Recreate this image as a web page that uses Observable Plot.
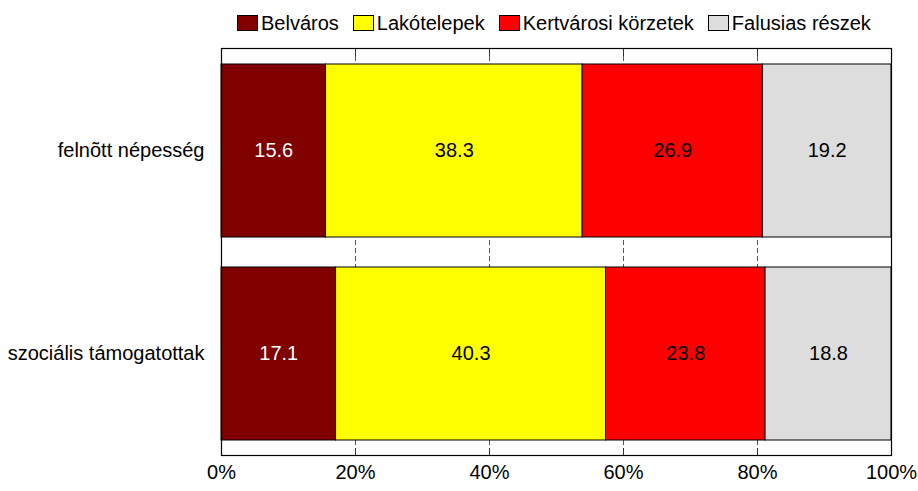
<!DOCTYPE html>
<html>
<head>
<meta charset="utf-8">
<script src="https://cdn.jsdelivr.net/npm/d3@7"></script>
<script src="https://cdn.jsdelivr.net/npm/@observablehq/plot@0.6"></script>
<style>
  body { margin: 0; background: #fff; font-family: "Liberation Sans", Arial, sans-serif; }
  #legend { height: 40px; display: flex; align-items: center; padding-left: 237px; font-size: 20px; color: #000; box-sizing: border-box; padding-top: 6px; }
  .item { display: flex; align-items: center; margin-right: 14px; }
  .sw { width: 19px; height: 14px; border: 1px solid #000; margin-right: 3px; }
</style>
</head>
<body>
<div id="legend"></div>
<div id="chart"></div>
<script>
const categories = ["felnõtt népesség", "szociális támogatottak"];
const series = ["Belváros", "Lakótelepek", "Kertvárosi körzetek", "Falusias részek"];
const colors = ["#800000", "#ffff00", "#ff0000", "#dddddd"];
const adultValues = [15.6, 38.3, 26.9, 19.2];
const socialValues = [17.1, 40.3, 23.8, 18.8];
const xTicks = [0, 20, 40, 60, 80, 100];

const data = [];
series.forEach((s, i) => data.push({cat: categories[0], series: s, value: adultValues[i]}));
series.forEach((s, i) => data.push({cat: categories[1], series: s, value: socialValues[i]}));

const legend = d3.select("#legend");
series.forEach((s, i) => {
  const it = legend.append("div").attr("class", "item");
  it.append("div").attr("class", "sw").style("background", colors[i]);
  it.append("span").text(s);
});

const font = "'Liberation Sans', Arial, sans-serif";
const chart = Plot.plot({
  width: 918,
  height: 451,
  marginTop: 8,
  marginBottom: 36,
  marginLeft: 221,
  marginRight: 27,
  style: {fontSize: "20px", fontFamily: font, color: "#000", background: "#fff"},
  x: {domain: [0, 100], axis: null},
  y: {domain: categories, paddingInner: 0.15, paddingOuter: 0.075, axis: null},
  color: {domain: series, range: colors},
  marks: [
    Plot.gridX(xTicks, {stroke: "#555", strokeOpacity: 1, strokeDasharray: "5,3"}),
    Plot.barX(data, Plot.stackX({x: "value", y: "cat", fill: "series", stroke: "#000", strokeWidth: 1})),
    Plot.text(data, Plot.stackX({
      x: "value", y: "cat", z: "series",
      text: d => d.value.toFixed(1),
      fill: d => d.series === "Belváros" ? "#fff" : "#000",
      fontSize: 20
    })),
    Plot.frame({stroke: "#000", strokeWidth: 1.2}),
    Plot.axisX(xTicks, {anchor: "bottom", tickSize: 0, tickPadding: 9, tickFormat: d => d + "%", fontSize: 20, label: null}),
    Plot.axisX(xTicks.slice(1, -1), {anchor: "bottom", tickSize: -7, text: null, label: null, stroke: "#333"}),
    Plot.axisX(xTicks.slice(1, -1), {anchor: "top", tickSize: -7, text: null, label: null, stroke: "#333"}),
    Plot.axisY({tickSize: 0, tickPadding: 17, fontSize: 20, label: null})
  ]
});
document.getElementById("chart").appendChild(chart);
</script>
</body>
</html>
